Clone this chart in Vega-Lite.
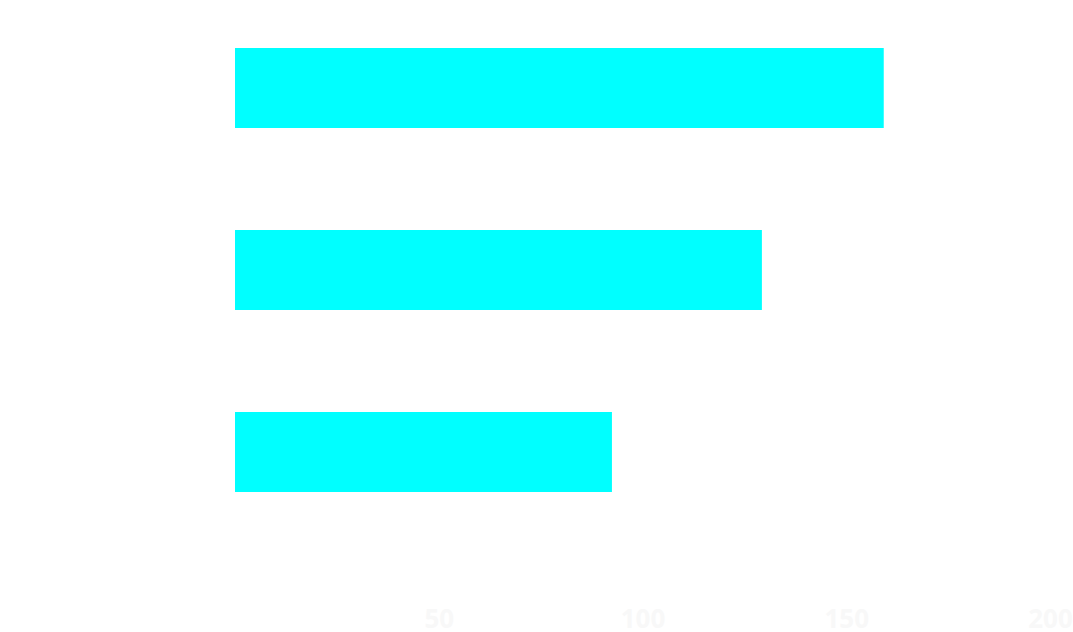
{
  "$schema": "https://vega.github.io/schema/vega-lite/v6.json",
  "autosize": "none",
  "width": 815,
  "height": 540,
  "padding": {"left": 235, "top": 0, "right": 23, "bottom": 92},
  "background": "#ffffff",
  "config": {"view": {"stroke": null}},
  "data": {
    "values": [
      {"category": "A", "value": 159.2},
      {"category": "B", "value": 129.3},
      {"category": "C", "value": 92.5}
    ]
  },
  "mark": {"type": "bar", "color": "#00ffff"},
  "encoding": {
    "y": {
      "field": "category",
      "type": "nominal",
      "sort": null,
      "scale": {"paddingInner": 0.56, "paddingOuter": 0.264},
      "axis": null
    },
    "x": {
      "field": "value",
      "type": "quantitative",
      "scale": {"domain": [0, 200], "nice": false},
      "axis": {
        "values": [50, 100, 150, 200],
        "domain": false,
        "ticks": false,
        "grid": false,
        "title": null,
        "labelFont": "Open Sans",
        "labelFontSize": 26,
        "labelFontWeight": "bold",
        "labelColor": "#f8f8f8",
        "labelPadding": 66,
        "labelOverlap": false,
        "labelFlush": false
      }
    }
  }
}
